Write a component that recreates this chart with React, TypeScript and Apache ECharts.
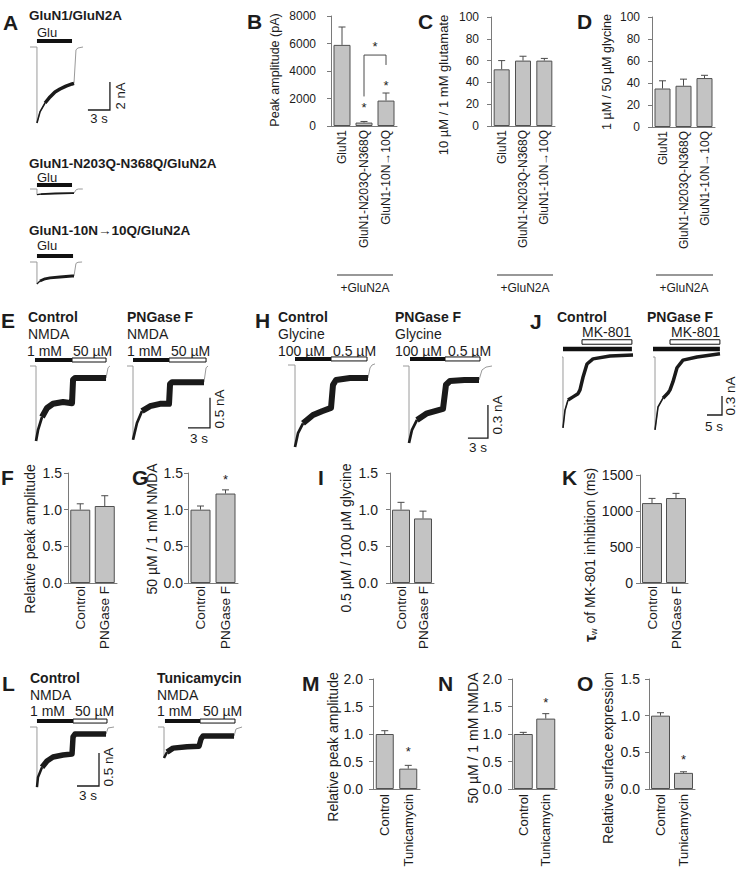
import React, { useEffect, useRef } from "react";
import * as echarts from "echarts";

// ---------------- DATA ----------------
// Panel B-D (row 1)
const catsB = ["GluN1", "GluN1-N203Q-N368Q", "GluN1-10N→10Q"];
const peakAmpB = [5900, 250, 1850];
const peakAmpErrB = [7200, 330, 2400];
const starsB = [[1, 1600], [2, 3200]];
const bracketB = [[1, 2150, 5160, 2, 4440, 6036]];
const glutRatioC = [52, 60, 60];
const glutRatioErrC = [60, 64, 62];
const glyRatioD = [35, 37.5, 44.5];
const glyRatioErrD = [42, 43.5, 47];

// Panels F, G, I, K (row 3)
const catsPNG = ["Control", "PNGase F"];
const relPeakF = [1.0, 1.05];
const relPeakErrF = [1.08, 1.19];
const nmdaRatioG = [1.0, 1.22];
const nmdaRatioErrG = [1.05, 1.27];
const starsG = [[1, 1.45]];
const glyRatioI = [1.0, 0.88];
const glyRatioErrI = [1.1, 0.98];
const tauK = [1110, 1180];
const tauErrK = [1175, 1245];

// Panels M, N, O (row 4)
const catsTun = ["Control", "Tunicamycin"];
const relPeakM = [1.0, 0.37];
const relPeakErrM = [1.06, 0.43];
const starsM = [[1, 0.745]];
const nmdaRatioN = [1.0, 1.28];
const nmdaRatioErrN = [1.03, 1.37];
const starsN = [[1, 1.62]];
const surfaceO = [1.0, 0.22];
const surfaceErrO = [1.04, 0.235];
const starsO = [[1, 0.45]];

// Current traces: [time (s), current (nA)]
const traceA1 = [[0, 0], [0.95, 0], [0.95, -5.43], [1.36, -4.64], [2.05, -4.0], [2.73, -3.57], [3.41, -3.21], [4.09, -3.0], [4.91, -2.79], [5.73, -2.64], [6.0, -2.6], [6.27, -0.2], [6.55, -0.07], [7.23, 0]];
const traceA2 = [[0, 0], [0.95, 0], [0.95, -0.4], [1.5, -0.36], [3.4, -0.32], [5.7, -0.29], [6.0, -0.29], [6.3, -0.05], [6.6, 0], [7.2, 0]];
const traceA3 = [[0, 0], [0.95, 0], [0.95, -1.57], [1.36, -1.36], [2.05, -1.2], [2.73, -1.13], [4.09, -1.07], [5.73, -1.0], [6.0, -1.0], [6.27, -0.1], [6.55, -0.02], [7.1, 0]];
const traceE1 = [[0, 0], [0.82, 0], [0.82, -1.25], [1.09, -1.07], [1.64, -0.85], [2.32, -0.7], [3.14, -0.63], [4.5, -0.6], [5.73, -0.62], [5.87, -0.23], [6.14, -0.2], [8.2, -0.2], [10.37, -0.2], [10.64, -0.03], [10.9, 0]];
const traceE2 = [[0, 0], [0.82, 0], [0.82, -1.23], [1.36, -0.95], [2.05, -0.75], [3.14, -0.67], [4.5, -0.63], [5.73, -0.63], [5.87, -0.3], [6.14, -0.27], [8.3, -0.27], [10.5, -0.27], [10.78, -0.03], [11.05, 0]];
const traceH1 = [[0, 0], [1.05, 0], [1.05, -0.745], [1.5, -0.62], [2.25, -0.53], [3.75, -0.455], [5.1, -0.42], [6.45, -0.39], [6.75, -0.18], [7.2, -0.136], [9.3, -0.118], [12.0, -0.118], [12.3, -0.027], [12.6, 0], [13.05, 0.01]];
const traceH2 = [[0, 0], [0.9, 0], [0.9, -0.7], [1.35, -0.58], [2.1, -0.49], [3.6, -0.43], [6.0, -0.39], [6.45, -0.17], [7.05, -0.136], [9.2, -0.127], [11.4, -0.127], [11.85, -0.036], [12.45, -0.01], [13.35, 0]];
const traceJ1 = [[0, 0], [0.33, 0], [0.33, -1.12], [1.0, -0.84], [2.0, -0.68], [3.67, -0.63], [5.33, -0.58], [6.0, -0.52], [7.0, -0.32], [8.33, -0.11], [10.33, -0.03], [16, 0.016], [23.67, 0.03]];
const traceJ2 = [[0, 0], [0.67, 0], [0.67, -1.15], [1.67, -0.79], [3.33, -0.65], [5.0, -0.57], [5.67, -0.52], [6.67, -0.39], [8.0, -0.17], [10.0, -0.05], [14.67, 0], [22.33, 0.05]];
const traceL1 = [[0, 0], [0.95, 0], [0.95, -0.91], [1.09, -0.76], [1.64, -0.61], [2.32, -0.515], [3.14, -0.455], [4.5, -0.424], [5.73, -0.41], [5.87, -0.15], [6.14, -0.106], [8.2, -0.106], [10.37, -0.106], [10.64, -0.015], [11.46, 0]];
const traceL2 = [[0, 0], [0.82, 0], [0.82, -0.47], [1.23, -0.38], [2.05, -0.32], [3.96, -0.3], [5.6, -0.29], [5.87, -0.18], [6.14, -0.136], [8.2, -0.136], [10.37, -0.136], [10.64, -0.03], [11.46, 0]];

// Agent applications: [start s, end s, level nA, filled]
const stimA1 = [[0.95, 5.73, 0.43, 1]];
const stimA2 = [[0.95, 5.73, 0.29, 1]];
const stimA3 = [[0.95, 5.87, 0.43, 1]];
const stimE1 = [[0.68, 5.73, 0.1, 1], [5.73, 10.37, 0.1, 0]];
const stimE2 = [[0.82, 5.73, 0.1, 1], [5.73, 10.78, 0.1, 0]];
const stimH1 = [[1.05, 6.45, 0.055, 1], [6.45, 11.85, 0.055, 0]];
const stimH2 = [[1.05, 6.3, 0.064, 1], [6.3, 11.55, 0.064, 0]];
const stimJ1 = [[0.33, 23.3, 0.126, 1], [6.67, 23.3, 0.237, 0]];
const stimJ2 = [[0, 22.3, 0.126, 1], [5.67, 22.3, 0.237, 0]];
const stimL1 = [[0.95, 5.87, 0.09, 1], [5.87, 10.5, 0.09, 0]];
const stimL2 = [[0.95, 5.73, 0.09, 1], [5.73, 10.5, 0.09, 0]];

// Scale bars: [corner t, corner I, dt (s), dI (nA)]
const scaleA = [[10.9, -4.5, 3, 2]];
const scaleE = [[11.32, -1.03, 3, 0.5]];
const scaleH = [[12.74, -0.655, 3, 0.3]];
const scaleJ = [[23, -0.916, 5, 0.3]];
const scaleL = [[9.41, -0.894, 3, 0.5]];

// ---------------- STYLE / LAYOUT ----------------
const FONT = "'Liberation Sans', Arial, Helvetica, sans-serif";
const INK = "#1c1c1c";
const AXIS = "#7a7a7a";
const BAR_FILL = "#c3c3c3";
const BAR_EDGE = "#505050";
const ERR = "#4a4a4a";

const barPanels = [
  { cats: catsB, mean: peakAmpB, err: peakAmpErrB, stars: starsB, bracket: bracketB, l: 331, r: 397, t: 16, b: 126, max: 8000, step: 2000, dec: 0, bw: 17, tf: 12, cf: 12, tm: 15, cm: 4 },
  { cats: catsB, mean: glutRatioC, err: glutRatioErrC, l: 491, r: 555, t: 17, b: 126, max: 100, step: 20, dec: 0, bw: 16, tf: 12, cf: 12, tm: 12, cm: 4 },
  { cats: catsB, mean: glyRatioD, err: glyRatioErrD, l: 652, r: 715, t: 17, b: 127, max: 100, step: 20, dec: 0, bw: 16, tf: 12, cf: 12, tm: 12, cm: 4 },
  { cats: catsPNG, mean: relPeakF, err: relPeakErrF, l: 68, r: 117, t: 473, b: 583, max: 1.5, step: 0.5, dec: 1, bw: 20, tf: 14, cf: 13.5, tm: 6, cm: 3 },
  { cats: catsPNG, mean: nmdaRatioG, err: nmdaRatioErrG, stars: starsG, l: 188, r: 238, t: 473, b: 583, max: 1.5, step: 0.5, dec: 1, bw: 20, tf: 14, cf: 13.5, tm: 5, cm: 3 },
  { cats: catsPNG, mean: glyRatioI, err: glyRatioErrI, l: 390, r: 434, t: 473, b: 583, max: 1.5, step: 0.5, dec: 1, bw: 18, tf: 14, cf: 13.5, tm: 12, cm: 3 },
  { cats: catsPNG, mean: tauK, err: tauErrK, l: 640, r: 688, t: 475, b: 583, max: 1500, step: 500, dec: 0, bw: 20, tf: 14, cf: 13.5, tm: 7, cm: 3 },
  { cats: catsTun, mean: relPeakM, err: relPeakErrM, stars: starsM, l: 373, r: 420, t: 679, b: 789, max: 2, step: 0.5, dec: 1, bw: 18, tf: 14, cf: 13, tm: 10, cm: 5 },
  { cats: catsTun, mean: nmdaRatioN, err: nmdaRatioErrN, stars: starsN, l: 512, r: 557, t: 679, b: 789, max: 2, step: 0.5, dec: 1, bw: 19, tf: 14, cf: 13, tm: 10, cm: 5 },
  { cats: catsTun, mean: surfaceO, err: surfaceErrO, stars: starsO, l: 649, r: 695, t: 679, b: 789, max: 1.5, step: 0.5, dec: 1, bw: 19, tf: 14, cf: 13, tm: 9, cm: 5 },
];

// noisy: [start idx, thick-from idx, end idx]
const tracePanels = [
  { data: traceA1, noisy: [2, 4, 10], stim: stimA1, scale: scaleA, x0: 30, y0: 47, pxs: 7.333, pxn: 14, band: 3.5, sh: 4 },
  { data: traceA2, noisy: [2, 3, 6], stim: stimA2, x0: 30, y0: 189, pxs: 7.333, pxn: 14, band: 1.8, sh: 4 },
  { data: traceA3, noisy: [2, 3, 8], stim: stimA3, x0: 30, y0: 262, pxs: 7.333, pxn: 14, band: 2.8, sh: 4 },
  { data: traceE1, noisy: [2, 4, 12], stim: stimE1, x0: 30, y0: 366, pxs: 7.333, pxn: 60, band: 6, sh: 4 },
  { data: traceE2, noisy: [2, 4, 11], stim: stimE2, scale: scaleE, x0: 127, y0: 366, pxs: 7.333, pxn: 60, band: 6, sh: 4 },
  { data: traceH1, noisy: [2, 4, 11], stim: stimH1, x0: 288, y0: 365, pxs: 6.667, pxn: 110, band: 6, sh: 4 },
  { data: traceH2, noisy: [2, 4, 10], stim: stimH2, scale: scaleH, x0: 403, y0: 366, pxs: 6.667, pxn: 110, band: 6, sh: 4 },
  { data: traceJ1, noisy: [2, 4, 12], stim: stimJ1, x0: 562, y0: 357, pxs: 3, pxn: 63.3, band: 3.5, sh: 4.5 },
  { data: traceJ2, noisy: [2, 4, 11], stim: stimJ2, scale: scaleJ, x0: 653, y0: 357, pxs: 3, pxn: 63.3, band: 3.5, sh: 4.5 },
  { data: traceL1, noisy: [2, 4, 12], stim: stimL1, scale: scaleL, x0: 30, y0: 727, pxs: 7.333, pxn: 66, band: 5.5, sh: 4 },
  { data: traceL2, noisy: [2, 3, 10], stim: stimL2, x0: 158, y0: 727, pxs: 7.333, pxn: 66, band: 5.5, sh: 4 },
];

// text annotations: [text, x, y, size, bold, align, rotated]
const texts: any[] = [
  ["A", 3, 22, 21, true], ["B", 247, 21, 21, true], ["C", 418, 21, 21, true], ["D", 577, 21, 21, true],
  ["E", 1, 320, 21, true], ["H", 255, 320, 21, true], ["J", 530, 321, 21, true],
  ["F", 1, 477, 21, true], ["G", 132, 477, 21, true], ["I", 318, 477, 21, true], ["K", 562, 477, 21, true],
  ["L", 2, 683, 21, true], ["M", 302, 683, 21, true], ["N", 438, 683, 21, true], ["O", 577, 683, 21, true],
  ["GluN1/GluN2A", 29, 15, 13.5, true], ["Glu", 37, 32, 13],
  ["GluN1-N203Q-N368Q/GluN2A", 29, 163, 13.5, true], ["Glu", 37, 177, 13],
  ["GluN1-10N→10Q/GluN2A", 29, 230, 13.5, true], ["Glu", 37, 245, 13],
  ["Control", 28, 317, 14, true], ["NMDA", 28, 334, 14], ["1 mM", 27, 351, 14], ["50 µM", 73, 351, 14],
  ["PNGase F", 127, 317, 14, true], ["NMDA", 127, 334, 14], ["1 mM", 127, 351, 14], ["50 µM", 171, 351, 14],
  ["Control", 278, 317, 14, true], ["Glycine", 278, 334, 14], ["100 µM", 278, 351, 14], ["0.5 µM", 333, 351, 14],
  ["PNGase F", 395, 317, 14, true], ["Glycine", 395, 334, 14], ["100 µM", 395, 351, 14], ["0.5 µM", 448, 351, 14],
  ["Control", 557, 317, 14, true], ["MK-801", 631, 332, 14, false, "right"],
  ["PNGase F", 647, 317, 14, true], ["MK-801", 720, 332, 14, false, "right"],
  ["Control", 30, 678, 14, true], ["NMDA", 30, 695, 14], ["1 mM", 30, 711, 14], ["50 µM", 75, 711, 14],
  ["Tunicamycin", 157, 678, 14, true], ["NMDA", 157, 695, 14], ["1 mM", 157, 711, 14], ["50 µM", 203, 711, 14],
  ["2 nA", 120, 96, 13, false, "center", true], ["3 s", 99, 118, 13, false, "center"],
  ["0.5 nA", 219, 409, 13.5, false, "center", true], ["3 s", 199, 438, 13.5, false, "center"],
  ["0.3 nA", 497, 415, 13.5, false, "center", true], ["3 s", 478, 447, 13.5, false, "center"],
  ["0.3 nA", 730, 396, 13.5, false, "center", true], ["5 s", 714, 426, 13.5, false, "center"],
  ["0.5 nA", 108, 767, 13.5, false, "center", true], ["3 s", 88, 795, 13.5, false, "center"],
  ["Peak amplitude (pA)", 275, 70, 12.5, false, "center", true],
  ["10 µM / 1 mM glutamate", 443, 85, 13, false, "center", true],
  ["1 µM / 50 µM glycine", 607, 72, 12.5, false, "center", true],
  ["Relative peak amplitude", 30, 539, 14, false, "center", true],
  ["50 µM / 1 mM NMDA", 152, 529, 14, false, "center", true],
  ["0.5 µM / 100 µM glycine", 346, 538, 14, false, "center", true],
  ["Relative peak amplitude", 333, 747, 14, false, "center", true],
  ["50 µM / 1 mM NMDA", 473, 738, 14, false, "center", true],
  ["Relative surface expression", 608, 758, 14, false, "center", true],
  ["+GluN2A", 365, 288, 12, false, "center"], ["+GluN2A", 525, 288, 12, false, "center"], ["+GluN2A", 684, 288, 12, false, "center"],
];
const groupLines = [[337, 393, 275], [497, 553, 275], [656, 713, 275]];

// ---------------- RENDERERS ----------------
const errRender = (_p: any, api: any) => {
  const i = api.value(0);
  const base = api.coord([i, api.value(1)]);
  const top = api.coord([i, api.value(2)]);
  const cap = 3.5;
  return {
    type: "group",
    children: [
      { type: "line", shape: { x1: top[0], y1: base[1], x2: top[0], y2: top[1] }, style: { stroke: ERR, lineWidth: 1 } },
      { type: "line", shape: { x1: top[0] - cap, y1: top[1], x2: top[0] + cap, y2: top[1] }, style: { stroke: ERR, lineWidth: 1 } },
    ],
  };
};
const starText = (x: number, y: number) => ({
  type: "text",
  x,
  y: y + 3,
  style: { text: "*", fontSize: 13, fontFamily: FONT, fill: INK, align: "center", verticalAlign: "middle" },
});
const starRender = (_p: any, api: any) => {
  const c = api.coord([api.value(0), api.value(1)]);
  return starText(c[0], c[1]);
};
const bracketRender = (_p: any, api: any) => {
  const a = api.coord([api.value(0), api.value(1)]);
  const b = api.coord([api.value(0), api.value(2)]);
  const c = api.coord([api.value(3), api.value(2)]);
  const d = api.coord([api.value(3), api.value(4)]);
  const s = api.coord([api.value(0), api.value(5)]);
  return {
    type: "group",
    children: [
      { type: "polyline", shape: { points: [a, b, c, d] }, style: { stroke: ERR, lineWidth: 1, fill: "none" } },
      starText((b[0] + c[0]) / 2, s[1]),
    ],
  };
};
const makeStimRender = (h: number) => (_p: any, api: any) => {
  const a = api.coord([api.value(0), api.value(2)]);
  const b = api.coord([api.value(1), api.value(2)]);
  const filled = api.value(3) === 1;
  return {
    type: "rect",
    shape: { x: a[0], y: a[1] - h / 2, width: b[0] - a[0], height: h },
    style: { fill: filled ? "#111" : "#fff", stroke: "#111", lineWidth: filled ? 0 : 1 },
  };
};
const scaleRender = (_p: any, api: any) => {
  const t = api.value(0), i = api.value(1), dt = api.value(2), di = api.value(3);
  const p0 = api.coord([t - dt, i]);
  const p1 = api.coord([t, i]);
  const p2 = api.coord([t, i + di]);
  return { type: "polyline", shape: { points: [p0, p1, p2] }, style: { stroke: INK, lineWidth: 1.3, fill: "none" } };
};

function buildOption() {
  const grid: any[] = [];
  const xAxis: any[] = [];
  const yAxis: any[] = [];
  const series: any[] = [];

  barPanels.forEach((p: any) => {
    const gi = grid.length;
    grid.push({ left: p.l, top: p.t, width: p.r - p.l, height: p.b - p.t, containLabel: false, outerBoundsMode: "none" });
    xAxis.push({
      type: "category", gridIndex: gi, data: p.cats,
      axisLine: { show: true, lineStyle: { color: AXIS, width: 1 } },
      axisTick: { show: false },
      axisLabel: { rotate: 90, interval: 0, fontSize: p.cf, color: INK, fontFamily: FONT, margin: p.cm },
      splitLine: { show: false },
    });
    yAxis.push({
      type: "value", gridIndex: gi, min: 0, max: p.max, interval: p.step,
      axisLine: { show: true, lineStyle: { color: AXIS, width: 1 } },
      axisTick: { show: true, length: 4, lineStyle: { color: AXIS } },
      axisLabel: { fontSize: p.tf, color: INK, fontFamily: FONT, margin: p.tm, formatter: (v: number) => v.toFixed(p.dec) },
      splitLine: { show: false },
    });
    series.push({
      type: "bar", xAxisIndex: gi, yAxisIndex: gi, data: p.mean, barWidth: p.bw, silent: true,
      itemStyle: { color: BAR_FILL, borderColor: BAR_EDGE, borderWidth: 1 },
    });
    series.push({
      type: "custom", xAxisIndex: gi, yAxisIndex: gi, clip: false, silent: true, z: 3,
      data: p.mean.map((m: number, i: number) => [i, m, p.err[i]]), renderItem: errRender,
    });
    if (p.stars) {
      series.push({ type: "custom", xAxisIndex: gi, yAxisIndex: gi, clip: false, silent: true, z: 4, data: p.stars, renderItem: starRender });
    }
    if (p.bracket) {
      series.push({ type: "custom", xAxisIndex: gi, yAxisIndex: gi, clip: false, silent: true, z: 4, data: p.bracket, renderItem: bracketRender });
    }
  });

  tracePanels.forEach((tp: any) => {
    const gi = grid.length;
    const tMax = Math.max(...tp.data.map((d: number[]) => d[0]));
    const iMin = Math.min(...tp.data.map((d: number[]) => d[1]));
    const iMax = 0.5;
    grid.push({
      left: tp.x0, top: tp.y0 - iMax * tp.pxn, width: tMax * tp.pxs, height: (iMax - iMin) * tp.pxn,
      containLabel: false, outerBoundsMode: "none",
    });
    xAxis.push({ type: "value", gridIndex: gi, min: 0, max: tMax, show: false, splitLine: { show: false } });
    yAxis.push({ type: "value", gridIndex: gi, min: iMin, max: iMax, show: false, splitLine: { show: false } });
    series.push({
      type: "line", xAxisIndex: gi, yAxisIndex: gi, data: tp.data, showSymbol: false, symbol: "none", clip: false, silent: true,
      lineStyle: { color: "#9a9a9a", width: 1 },
    });
    const [a, b, c] = tp.noisy;
    series.push({
      type: "line", xAxisIndex: gi, yAxisIndex: gi, data: tp.data.slice(a, b + 1), showSymbol: false, symbol: "none",
      clip: false, silent: true, z: 3, lineStyle: { color: "#1a1a1a", width: Math.max(1.2, tp.band * 0.45), join: "round", cap: "butt" },
    });
    series.push({
      type: "line", xAxisIndex: gi, yAxisIndex: gi, data: tp.data.slice(b, c + 1), showSymbol: false, symbol: "none",
      clip: false, silent: true, z: 3, lineStyle: { color: "#1a1a1a", width: tp.band, join: "round", cap: "butt" },
    });
    series.push({ type: "custom", xAxisIndex: gi, yAxisIndex: gi, clip: false, silent: true, z: 4, data: tp.stim, renderItem: makeStimRender(tp.sh) });
    if (tp.scale) {
      series.push({ type: "custom", xAxisIndex: gi, yAxisIndex: gi, clip: false, silent: true, z: 4, data: tp.scale, renderItem: scaleRender });
    }
  });

  const elements: any[] = texts.map((t: any[]) => {
    const [text, x, y, size, bold, align, rot] = t;
    return {
      type: "text", x, y, rotation: rot ? Math.PI / 2 : 0, silent: true,
      style: {
        text, fontSize: size, fontWeight: bold ? "bold" : "normal", fontFamily: FONT, fill: INK,
        align: align || "left", verticalAlign: "middle",
      },
    };
  });
  elements.push({
    type: "text", x: 590, y: 555, rotation: Math.PI / 2, silent: true,
    style: {
      text: "{a|τ}{b|w} of MK-801 inhibition (ms)", fontSize: 14, fontFamily: FONT, fill: INK, align: "center", verticalAlign: "middle",
      rich: {
        a: { fontSize: 16, fontWeight: "bold", fontFamily: FONT, fill: INK },
        b: { fontSize: 9, fontFamily: FONT, fill: INK, verticalAlign: "bottom", padding: [6, 1, 0, 0] },
      },
    },
  });
  groupLines.forEach(([x1, x2, y]) => {
    elements.push({ type: "line", silent: true, shape: { x1, y1: y, x2, y2: y }, style: { stroke: "#333", lineWidth: 1.2 } });
  });

  return {
    animation: false,
    backgroundColor: "#ffffff",
    grid, xAxis, yAxis, series,
    graphic: { elements },
  };
}

export default function App() {
  const ref = useRef<HTMLDivElement>(null);
  useEffect(() => {
    if (!ref.current) return;
    const chart = echarts.init(ref.current, undefined, { renderer: "svg" });
    chart.setOption(buildOption() as any);
    return () => chart.dispose();
  }, []);
  return (
    <div
      ref={ref}
      style={{ position: "absolute", left: 0, top: 0, width: 741, height: 872, background: "#fff" }}
    />
  );
}
